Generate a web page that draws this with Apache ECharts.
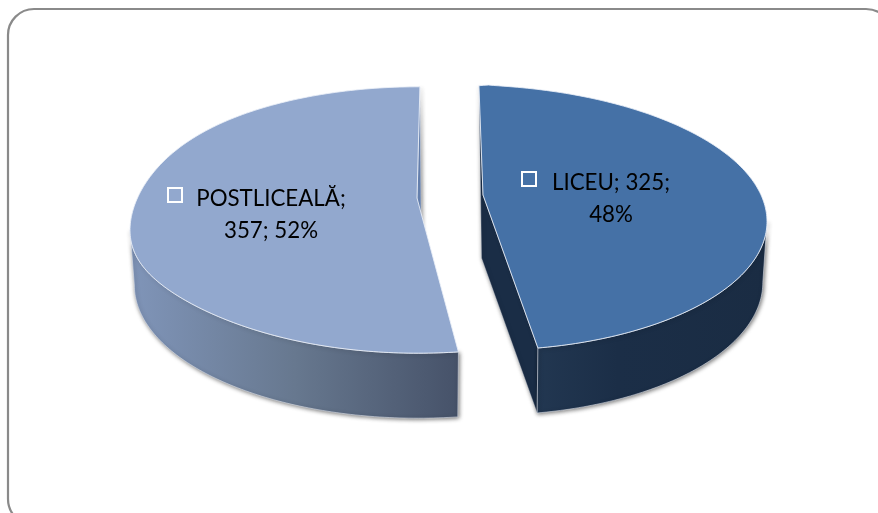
<!DOCTYPE html>
<html><head><meta charset="utf-8">
<style>html,body{margin:0;padding:0;background:#fff}#c{width:878px;height:513px}</style>
<script src="https://cdn.jsdelivr.net/npm/echarts@6/dist/echarts.min.js"></script>
</head><body><div id="c"></div>
<script>
var categories = ['LICEU', 'POSTLICEALĂ'];
var values = [325, 357];
var percentLabels = ['48%', '52%'];
var labelLines = [['LICEU; 325;', '48%'], ['POSTLICEALĂ;', '357; 52%']];

var faceColors = ['#4571a6', '#92a8ce'];
var sliverColors = ['#1a2d46', '#6a86b5'];
var wallGradients = [
  [[0, '#223751'], [0.35, '#1b2e47'], [1, '#1a2c43']],
  [[0, '#8095b9'], [0.5, '#67788f'], [1, '#465269']]
];
var geometry = [
  {cx: 488, cy: 217.5, rx: 279, ry: 132.6, tilt: -1.86, tipX: 483, tipY: 195, lx: 611, ly1: 193.5, ly2: 226, bx: 522, by: 172, depthTipX: 481.5},
  {cx: 418, cy: 220, rx: 288, ry: 133.2, tilt: 0.38, tipX: 417, tipY: 198, lx: 271, ly1: 210, ly2: 242, bx: 168, by: 188, depthTipX: 421.5}
];
var depth = 65, bottomScale = 0.985;
var total = values.reduce(function (a, b) { return a + b; }, 0);

// small perspective correction of the top rim of each slice
var rimCorrection = [
  function (s, c) { return 8 * Math.pow(Math.abs(s), 0.7) * (1 + c) / 2; },
  function (s) { return 10 * Math.pow(s, 8); }
];
function pt(i, deg, k, dy) {
  var g = geometry[i], t = deg * Math.PI / 180, s = Math.sin(t), c = Math.cos(t);
  var extra = k === 1 ? rimCorrection[i](s, c) : 0;
  return [g.cx + g.rx * k * s, g.cy + dy + extra - g.ry * c];
}
function arc(i, a, b, k, dy) {
  var out = [], n = Math.ceil(Math.abs(b - a));
  for (var j = 0; j <= n; j++) out.push(pt(i, a + (b - a) * j / n, k, dy));
  return out;
}
var shadow = {shadowColor: 'rgba(0,0,0,0.55)', shadowBlur: 4, shadowOffsetX: 1, shadowOffsetY: 1};
var rimLine = 'rgba(235,240,248,0.85)';
var font = '22.3px Lato, "Open Sans", sans-serif';

function renderItem(params, api) {
  var i = params.dataIndex, g = geometry[i];
  var before = 0;
  for (var j = 0; j < i; j++) before += values[j];
  var a0 = before / total * 360 + g.tilt;
  var a1 = (before + api.value(0)) / total * 360 + g.tilt;

  var children = [];
  var wa = i === 0 ? 90 : a0, wb = i === 0 ? a1 : 270;
  var wall = arc(i, wa, wb, 1, 0).concat(arc(i, wb, wa, bottomScale, depth));
  var cornerDeg = i === 0 ? a1 : a0;
  var rearDeg = i === 0 ? a0 : a1;
  var rearPt = pt(i, rearDeg, 1, 0);
  var tipBottom = [g.depthTipX, g.tipY + depth - 2];
  var corner = pt(i, cornerDeg, 1, 0);
  var cornerB = pt(i, cornerDeg, bottomScale, depth);
  var tip = [g.tipX, g.tipY];
  var inner = i === 0 ? [rearPt, tipBottom, cornerB, corner, tip] : [rearPt, tipBottom, tip];
  children.push({
    type: 'polygon', shape: {points: inner},
    style: Object.assign({fill: sliverColors[i], stroke: 'rgba(225,230,240,0.6)', lineWidth: 0.6}, shadow)
  });
  children.push({
    type: 'polygon', shape: {points: wall},
    style: Object.assign({
      fill: new echarts.graphic.LinearGradient(0, 0, 1, 0, wallGradients[i].map(function (s) { return {offset: s[0], color: s[1]}; })),
      stroke: 'rgba(225,230,240,0.7)', lineWidth: 0.8
    }, shadow)
  });
  children.push({
    type: 'polygon', shape: {points: [tip].concat(arc(i, a0, a1, 1, 0))},
    style: {fill: faceColors[i], stroke: rimLine, lineWidth: 1}
  });
  children.push({type: 'rect', shape: {x: g.bx, y: g.by, width: 14, height: 14},
    style: {fill: 'none', stroke: '#fff', lineWidth: 2}});
  children.push({type: 'text', style: {text: labelLines[i][0], x: g.lx, y: g.ly1, font: font, fill: '#000', textAlign: 'center', textVerticalAlign: 'bottom'}});
  children.push({type: 'text', style: {text: labelLines[i][1], x: g.lx, y: g.ly2, font: font, fill: '#000', textAlign: 'center', textVerticalAlign: 'bottom'}});
  return {type: 'group', children: children};
}

var chart = echarts.init(document.getElementById('c'), null, {renderer: 'canvas'});
chart.setOption({
  animation: false,
  backgroundColor: '#fff',
  graphic: [{type: 'rect', z: 0, shape: {x: 8, y: 9, width: 884, height: 516, r: 26},
    style: {fill: '#fff', stroke: '#8a8a8a', lineWidth: 2.2}}],
  series: [{
    type: 'custom', coordinateSystem: 'none', z: 2,
    data: categories.map(function (c, i) { return {name: c, value: [values[i]]}; }),
    renderItem: renderItem
  }]
});
</script></body></html>
